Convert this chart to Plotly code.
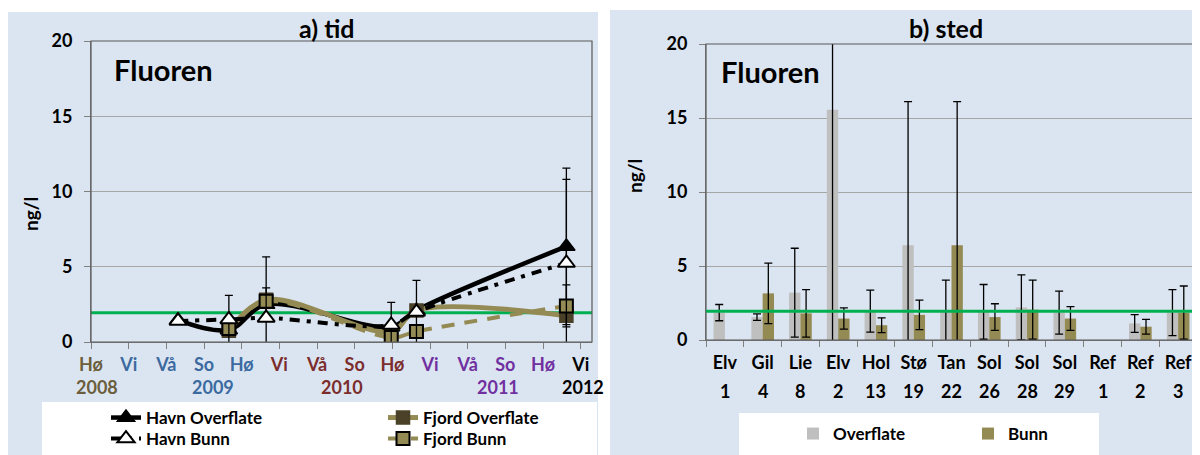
import plotly.graph_objects as go

# ---------------- a) tid ----------------
season_ticks = list(range(14))
season_labels = ["Hø", "Vi", "Vå", "So", "Hø", "Vi", "Vå", "So", "Hø", "Vi", "Vå", "So", "Hø", "Vi"]
season_colors = ["#6b5e3c"] + ["#3b6aa0"] * 4 + ["#7b2d2d"] * 4 + ["#7030a0"] * 4 + ["#000000"]
years = ["2008", "2009", "2010", "2011", "2012"]
year_pos = [0.15, 3.25, 6.65, 10.8, 13.05]
year_colors = ["#6b5e3c", "#3b6aa0", "#7b2d2d", "#7030a0", "#000000"]

t_havn = [2.31, 3.66, 4.65, 7.97, 8.64, 12.62]
havn_overflate = [1.45, 0.8, 2.5, 1.0, 2.1, 6.35]
havn_overflate_err = [0, 0, 1.1, 0, 0, 5.2]
havn_bunn = [1.4, 1.5, 1.6, 1.13, 2.0, 5.25]
havn_bunn_err = [0, 1.6, 4.05, 1.5, 2.1, 5.55]

t_fjord = [3.66, 4.65, 7.97, 8.64, 12.62]
fjord_overflate = [0.75, 2.8, 0.7, 2.1, 1.75]
fjord_overflate_err = [0, 0, 0, 0, 0]
fjord_bunn = [0.9, 2.7, 0.3, 0.7, 2.4]
fjord_bunn_err = [0, 0, 0, 0, 1.4]

# ---------------- b) sted ----------------
sites = ["Elv", "Gil", "Lie", "Elv", "Hol", "Stø", "Tan", "Sol", "Sol", "Sol", "Ref", "Ref", "Ref"]
site_nr = ["1", "4", "8", "2", "13", "19", "22", "26", "28", "29", "1", "2", "3"]
overflate = [1.85, 1.55, 3.2, 15.55, 1.95, 6.4, 1.9, 1.9, 2.2, 1.85, None, 1.12, 1.85]
overflate_err = [0.55, 0.22, 3.0, 16.0, 1.42, 9.7, 2.15, 1.85, 2.2, 1.45, 0, 0.6, 1.55]
bunn = [None, 3.15, 1.8, 1.45, 1.0, 1.7, 6.4, 1.55, 2.05, 1.45, None, 0.9, 1.85]
bunn_err = [0, 2.05, 1.6, 0.72, 0.5, 1.0, 9.7, 0.9, 2.0, 0.8, 0, 0.5, 1.8]

grense = 1.95  # green reference line

W, H = 1200, 455
OFF = 8  # page body margin in the browser
OLIVE = "#948a54"
DARK = "#4a4128"
GRID = "#a6a6a6"
FS = 18
BOLD = dict(family="Lato", size=FS, color="black", weight="bold")
LEGFONT = dict(family="Lato", size=17, color="black", weight="bold")


def px(v):
    return (v - OFF) / W


def py(v):
    return 1 - (v - OFF) / H


cats = [f"{s} {n}" for s, n in zip(sites, site_nr)]

fig = go.Figure()

# left chart traces
fig.add_trace(go.Scatter(
    x=t_havn, y=havn_overflate, name="Havn Overflate", mode="lines+markers",
    line=dict(color="black", width=4.5, shape="spline"),
    marker=dict(symbol="triangle-up", size=15, color="black", line=dict(color="black", width=1.5)),
    error_y=dict(type="data", array=havn_overflate_err, color="black", thickness=1.3, width=4),
    legend="legend", xaxis="x", yaxis="y"))
fig.add_trace(go.Scatter(
    x=t_fjord, y=fjord_overflate, name="Fjord Overflate", mode="lines+markers",
    line=dict(color=OLIVE, width=5, shape="spline"),
    marker=dict(symbol="square", size=13, color=DARK, line=dict(color=DARK, width=1.5)),
    error_y=dict(type="data", array=fjord_overflate_err, color="black", thickness=1.3, width=4),
    legend="legend", xaxis="x", yaxis="y"))
fig.add_trace(go.Scatter(
    x=t_fjord, y=fjord_bunn, name="Fjord Bunn", mode="lines+markers",
    line=dict(color=OLIVE, width=4, shape="spline", dash="13px,10px"),
    marker=dict(symbol="square", size=13, color=OLIVE, line=dict(color="black", width=2)),
    error_y=dict(type="data", array=fjord_bunn_err, color="black", thickness=1.3, width=4),
    legend="legend3", legendrank=2, xaxis="x", yaxis="y"))
fig.add_trace(go.Scatter(
    x=t_havn, y=havn_bunn, name="Havn Bunn", mode="lines+markers",
    line=dict(color="black", width=4, shape="spline", dash="10px,7px,4px,7px"),
    marker=dict(symbol="triangle-up", size=15, color="white", line=dict(color="black", width=2)),
    error_y=dict(type="data", array=havn_bunn_err, color="black", thickness=1.3, width=4),
    legend="legend3", legendrank=1, xaxis="x", yaxis="y"))

# right chart bars
fig.add_trace(go.Bar(
    x=cats, y=overflate, name="Overflate", marker=dict(color="#bfbfbf", line=dict(width=0)),
    error_y=dict(type="data", array=overflate_err, color="black", thickness=1.3, width=4),
    legend="legend2", xaxis="x2", yaxis="y2"))
fig.add_trace(go.Bar(
    x=cats, y=bunn, name="Bunn", marker=dict(color=OLIVE, line=dict(width=0)),
    error_y=dict(type="data", array=bunn_err, color="black", thickness=1.3, width=4),
    legend="legend2", xaxis="x2", yaxis="y2"))

ticktext = [f'<span style="color:{c}">{s}</span>' for s, c in zip(season_labels, season_colors)]

axis_common = dict(showline=True, linecolor="#808080", linewidth=1, mirror=False, automargin=False,
                   ticks="outside", tickcolor="#808080", ticklen=6, tickfont=BOLD)

fig.update_layout(
    template="none",
    width=W, height=H, margin=dict(l=0, r=0, t=0, b=0, pad=0), autosize=False,
    paper_bgcolor="white", plot_bgcolor="white",
    font=dict(family="Lato", size=15, color="black"),
    barmode="group", bargap=0.4, bargroupgap=0,
    xaxis=dict(domain=[px(91), px(592)], range=[0, 13.3], tickvals=season_ticks, ticktext=ticktext,
               showgrid=False, zeroline=False, anchor="y", ticklabelstandoff=0, **axis_common),
    yaxis=dict(domain=[py(342), py(41)], range=[0, 20], dtick=5, showgrid=True, gridcolor=GRID,
               zeroline=False, anchor="x", ticklabelstandoff=8, **axis_common),
    xaxis2=dict(domain=[px(706), px(1197)], type="category", tickvals=cats, ticktext=sites,
                tickson="boundaries", showgrid=False, zeroline=False, anchor="y2",
                ticklabelstandoff=6, **axis_common),
    yaxis2=dict(domain=[py(340), py(44)], range=[0, 20], dtick=5, showgrid=True, gridcolor=GRID,
                zeroline=False, anchor="x2", ticklabelstandoff=8, **axis_common),
    legend=dict(orientation="h", x=px(106), y=py(400), xanchor="left", yanchor="top",
                entrywidth=232, bgcolor="rgba(0,0,0,0)", font=LEGFONT, tracegroupgap=0),
    legend3=dict(orientation="h", x=px(106), y=py(421), xanchor="left", yanchor="top",
                 entrywidth=232, bgcolor="rgba(0,0,0,0)", font=LEGFONT, tracegroupgap=0),
    legend2=dict(orientation="h", x=px(793), y=py(416), xanchor="left", yanchor="top",
                 entrywidth=130, bgcolor="rgba(0,0,0,0)", font=LEGFONT),
)

shapes = [
    # light blue panels
    dict(type="rect", xref="paper", yref="paper", x0=px(8), x1=px(598), y0=0, y1=py(12),
         fillcolor="#dbe5f1", line=dict(width=0), layer="below"),
    dict(type="rect", xref="paper", yref="paper", x0=px(610), x1=1, y0=0, y1=py(10),
         fillcolor="#dbe5f1", line=dict(width=0), layer="below"),
    # legend boxes
    dict(type="rect", xref="paper", yref="paper", x0=px(42), x1=px(597), y0=0, y1=py(402),
         fillcolor="white", line=dict(width=0), layer="below"),
    dict(type="rect", xref="paper", yref="paper", x0=px(739), x1=px(1099), y0=0, y1=py(413),
         fillcolor="white", line=dict(width=0), layer="below"),
    # plot borders
    dict(type="rect", xref="x domain", yref="y domain", x0=0, x1=1, y0=0, y1=1,
         line=dict(color="#595959", width=1.2), layer="above"),
    dict(type="rect", xref="x2 domain", yref="y2 domain", x0=0, x1=1, y0=0, y1=1,
         line=dict(color="#595959", width=1.2), layer="above"),
    # green limit lines
    dict(type="line", xref="x domain", yref="y", x0=0, x1=1, y0=grense, y1=grense,
         line=dict(color="#00b050", width=3), layer="below"),
    dict(type="line", xref="x2 domain", yref="y2", x0=0, x1=1, y0=grense, y1=grense,
         line=dict(color="#00b050", width=3), layer="above"),
]
fig.update_layout(shapes=shapes)

for text, x0 in [("a) tid", 326), ("b) sted", 946)]:
    fig.add_annotation(text=text, x=px(x0), y=py(28), xref="paper", yref="paper", showarrow=False,
                       xanchor="center", yanchor="middle",
                       font=dict(family="Lato", size=25, color="black", weight="bold"))

for x0, y0 in [(112, 70), (719, 72)]:
    fig.add_annotation(text="Fluoren", x=px(x0), y=py(y0), xref="paper", yref="paper",
                       showarrow=False, xanchor="left", yanchor="middle",
                       font=dict(family="Lato", size=29, color="black", weight="bold"))

for x0, y0 in [(31, 214), (634, 176)]:
    fig.add_annotation(text="ng/l", x=px(x0), y=py(y0), xref="paper", yref="paper",
                       showarrow=False, textangle=-90, xanchor="center", yanchor="middle",
                       font=dict(family="Lato", size=19, color="black", weight="bold"))

for yr, pos, c in zip(years, year_pos, year_colors):
    fig.add_annotation(text=yr, x=pos, y=py(387), xref="x", yref="paper", showarrow=False,
                       xanchor="center", yanchor="middle",
                       font=dict(family="Lato", size=FS, color=c, weight="bold"))

for c, n in zip(cats, site_nr):
    fig.add_annotation(text=n, x=c, y=py(391), xref="x2", yref="paper", showarrow=False,
                       xanchor="center", yanchor="middle", font=BOLD)

fig.write_html("out.html")
